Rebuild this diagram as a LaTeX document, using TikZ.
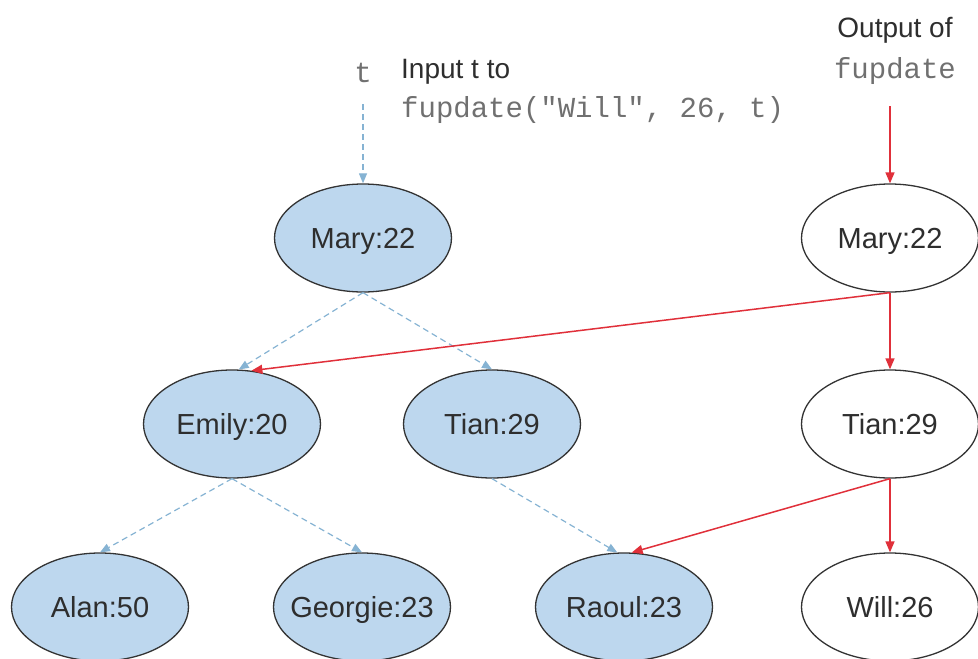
\documentclass[tikz,border=0pt]{standalone}
\usepackage{fontspec}
\setmainfont{Liberation Sans}
\setmonofont{Liberation Mono}
\usetikzlibrary{shapes.geometric,arrows.meta}
\definecolor{nodefill}{HTML}{BDD7EE}
\definecolor{nodeline}{HTML}{333333}
\definecolor{bluearrow}{HTML}{86B3D3}
\definecolor{redarrow}{HTML}{E0303A}
\definecolor{labeltext}{HTML}{2E2E2E}
\definecolor{monotext}{HTML}{707070}
\tikzset{
  treenode/.style={ellipse, draw=nodeline, line width=1.3pt, minimum width=177pt, minimum height=108pt, inner xsep=-30pt, inner ysep=0pt, text height=20.8pt, text depth=0pt, text=labeltext, font=\fontsize{29}{33}\selectfont},
  oldnode/.style={treenode, fill=nodefill},
  newnode/.style={treenode, fill=white},
  oldedge/.style={draw=bluearrow, line width=1.2pt, dash pattern=on 6pt off 4pt, -{Triangle[length=10pt,width=8pt]}},
  newedge/.style={draw=redarrow, line width=1.5pt, -{Triangle[length=11pt,width=9pt]}},
  sanslabel/.style={inner sep=0pt, text=labeltext, font=\fontsize{28}{32}\selectfont},
  monolabel/.style={inner sep=0pt, text=monotext, font=\ttfamily\fontsize{29}{33}\selectfont},
}
\begin{document}
\begin{tikzpicture}[x=1pt,y=-1pt]
\useasboundingbox (0,0) rectangle (978,659);
% old tree
\node[oldnode] (mary)    at (363,238) {Mary:22};
\node[oldnode] (emily)   at (232,424) {Emily:20};
\node[oldnode] (tian)    at (492,424) {Tian:29};
\node[oldnode] (alan)    at (100,607) {Alan:50};
\node[oldnode] (georgie) at (362,607) {Georgie:23};
\node[oldnode] (raoul)   at (624,607) {Raoul:23};
% new tree
\node[newnode] (marynew) at (890,238) {Mary:22};
\node[newnode] (tiannew) at (890,424) {Tian:29};
\node[newnode] (will)    at (890,607) {Will:26};
% labels
\node[monolabel] (tlab) at (363,73) {t};
\node[sanslabel, anchor=west] (inputlab) at (401,72) {Input t to};
\node[monolabel, anchor=west] (calllab) at (401,110) {fupdate("Will", 26, t)};
\node[sanslabel] (outlab) at (895,30) {Output of};
\node[monolabel] (outcall) at (895,71) {fupdate};
\coordinate (tstart) at (363,104);
\coordinate (ostart) at (890,106);
% old edges
\draw[oldedge] (tstart) -- (mary.north);
\draw[oldedge] (mary.south) -- (emily.83);
\draw[oldedge] (mary.south) -- (tian.north);
\draw[oldedge] (emily.south) -- (alan.north);
\draw[oldedge] (emily.south) -- (georgie.north);
\draw[oldedge] (tian.south) -- (raoul.97);
% new edges
\draw[newedge] (ostart) -- (marynew.north);
\draw[newedge] (marynew.south) -- (emily.70);
\draw[newedge] (marynew.south) -- (tiannew.north);
\draw[newedge] (tiannew.south) -- (raoul.82);
\draw[newedge] (tiannew.south) -- (will.north);
\end{tikzpicture}
\end{document}
